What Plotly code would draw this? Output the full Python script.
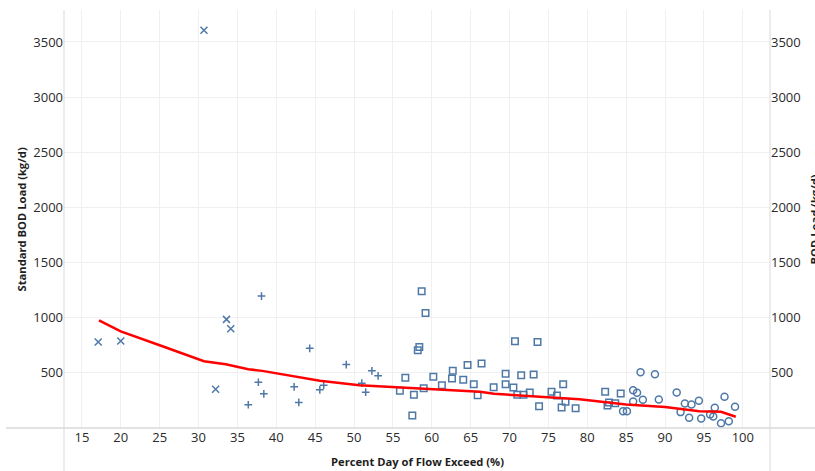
import plotly.graph_objects as go

# Flow-regime groups: percent day of flow exceeded vs standard BOD load (kg/d)
high_x = [17.1, 20.0, 30.7, 32.2, 33.6, 34.15]
high_y = [780, 789, 3606, 352, 985, 900]

moist_x = [36.4, 37.7, 38.1, 38.4, 42.3, 42.9, 44.3, 45.6, 46.1, 49.0, 51.0, 51.5, 52.3, 53.1]
moist_y = [211, 415, 1196, 310, 373, 232, 722, 346, 388, 575, 406, 325, 518, 473]

mid_x = [55.9, 56.6, 57.5, 57.7, 58.2, 58.4, 58.7, 58.96, 59.2, 60.2, 61.3, 62.6, 62.7,
         64.05, 64.6, 65.4, 65.9, 66.4, 67.96, 69.5, 69.5, 70.5, 70.7, 71.0, 71.5, 71.8,
         72.6, 73.1, 73.6, 73.8, 75.4, 76.1, 76.7, 76.9, 77.2, 78.5, 82.3, 82.6, 82.8,
         83.6, 84.3]
mid_y = [337, 455, 114, 301, 704, 735, 1241, 361, 1042, 464, 388, 448, 518,
         437, 572, 397, 297, 584, 370, 491, 397, 367, 786, 301, 478, 301,
         322, 485, 780, 198, 328, 295, 186, 397, 238, 180, 328, 204, 231,
         225, 313]

low_x = [84.6, 85.1, 85.9, 85.9, 86.4, 86.85, 87.15, 88.7, 89.2, 91.5, 92.0, 92.55,
         93.1, 93.4, 94.35, 94.65, 95.8, 96.2, 96.4, 97.2, 97.65, 98.2, 99.0]
low_y = [153, 153, 343, 240, 319, 505, 256, 487, 259, 322, 144, 222,
         93, 213, 247, 87, 123, 105, 183, 44, 283, 62, 193]

# Standard load duration curve
curve_x = [17.2, 20.0, 25.0, 30.7, 33.5, 36.4, 38.2, 40.5, 43.0, 45.6, 50.7, 55.9,
           61.0, 66.2, 68.0, 73.4, 79.0, 85.0, 90.0, 94.4, 97.2, 99.1]
curve_y = [976, 876, 750, 605, 578, 533, 518, 490, 464, 428, 388, 370,
           352, 328, 310, 283, 261, 213, 190, 153, 147, 102]

x_ticks = [15, 20, 25, 30, 35, 40, 45, 50, 55, 60, 65, 70, 75, 80, 85, 90, 95, 100]
y_ticks = [500, 1000, 1500, 2000, 2500, 3000, 3500]

BLUE = "#4e79a7"
FONT = "Open Sans"

fig = go.Figure()

def add_points(xs, ys, symbol, size):
    fig.add_trace(go.Scatter(
        x=xs, y=ys, mode="markers", showlegend=False,
        marker=dict(symbol=symbol, size=size, color=BLUE,
                    line=dict(color=BLUE, width=1.5)),
    ))

add_points(high_x, high_y, "x-thin-open", 7)
add_points(moist_x, moist_y, "cross-thin-open", 5.5)
add_points(mid_x, mid_y, "square-open", 6.5)
add_points(low_x, low_y, "circle-open", 7)

fig.add_trace(go.Scatter(
    x=curve_x, y=curve_y, mode="lines", showlegend=False,
    line=dict(color="#ff0000", width=2.5),
))

# empty trace that carries the right-hand axis
fig.add_trace(go.Scatter(x=[None], y=[None], yaxis="y2", showlegend=False))

YR = [0, 3790]
XR = [12.7, 103.5]
GRID = "#f0f0f0"
LINE = "#d9d9d9"

fig.update_layout(
    width=815, height=471,
    margin=dict(l=64, r=45, t=10, b=43),
    paper_bgcolor="white", plot_bgcolor="white",
    font=dict(family=FONT, size=13, color="#2a2a2a"),
    xaxis=dict(range=XR, tickmode="array", tickvals=x_ticks,
               ticktext=[str(t) for t in x_ticks],
               showgrid=True, gridcolor=GRID, gridwidth=1,
               zeroline=False, showline=False, ticks=""),
    yaxis=dict(range=YR, tickmode="array", tickvals=y_ticks,
               ticktext=[str(t) for t in y_ticks],
               showgrid=True, gridcolor=GRID, gridwidth=1,
               zeroline=False, showline=False, ticks=""),
    yaxis2=dict(range=YR, overlaying="y", side="right", tickmode="array",
                tickvals=y_ticks, ticktext=[str(t) for t in y_ticks],
                showgrid=False, zeroline=False, showline=False, ticks=""),
    shapes=[
        dict(type="line", xref="paper", yref="paper", x0=0, x1=0, y0=-0.11, y1=1,
             line=dict(color=LINE, width=1)),
        dict(type="line", xref="paper", yref="paper", x0=1, x1=1, y0=-0.11, y1=1,
             line=dict(color=LINE, width=1)),
        dict(type="line", xref="paper", yref="paper", x0=-0.082, x1=1.07, y0=0, y1=0,
             line=dict(color=LINE, width=1.5)),
    ],
    annotations=[
        dict(text="<b>Standard BOD Load (kg/d)</b>", xref="paper", yref="paper",
             x=-0.0602, y=0.5, textangle=-90, showarrow=False,
             xanchor="center", yanchor="middle",
             font=dict(family=FONT, size=11.2, color="#1e1e1e")),
        dict(text="<b>BOD Load (kg/d)</b>", xref="paper", yref="paper",
             x=1.063, y=0.5, textangle=-90, showarrow=False,
             xanchor="center", yanchor="middle",
             font=dict(family=FONT, size=11.2, color="#1e1e1e")),
        dict(text="<b>Percent Day of Flow Exceed (%)</b>", xref="paper", yref="paper",
             x=0.5, y=-0.0794, showarrow=False, xanchor="center", yanchor="middle",
             font=dict(family=FONT, size=11.2, color="#1e1e1e")),
    ],
)

fig.write_html("out.html")
